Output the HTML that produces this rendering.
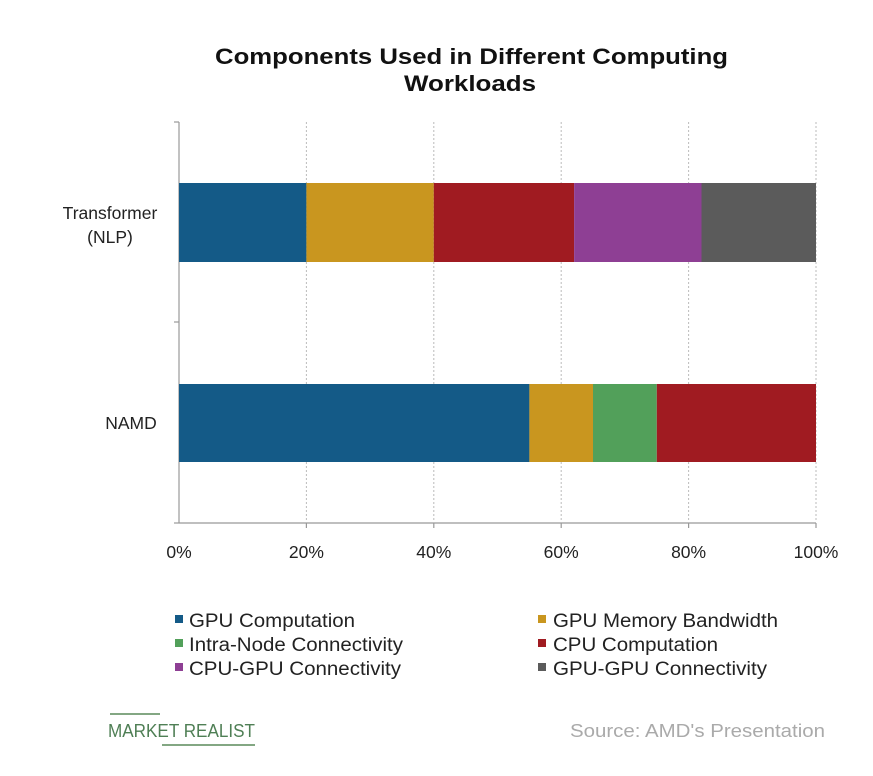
<!DOCTYPE html>
<html><head><meta charset="utf-8"><style>
html,body{margin:0;padding:0;background:#fff;}
svg{display:block;font-family:"Liberation Sans",Arial,sans-serif;}
</style></head><body>
<svg width="873" height="776" viewBox="0 0 873 776" xmlns="http://www.w3.org/2000/svg">
<rect width="873" height="776" fill="#fff"/>
<text x="215" y="64" font-size="22" font-weight="bold" fill="#111" textLength="513" lengthAdjust="spacingAndGlyphs">Components Used in Different Computing</text>
<text x="404" y="91" font-size="22" font-weight="bold" fill="#111" textLength="132" lengthAdjust="spacingAndGlyphs">Workloads</text>
<g stroke="#bbb" stroke-dasharray="2,2" stroke-width="1">
<line x1="306.4" y1="122" x2="306.4" y2="522"/>
<line x1="433.8" y1="122" x2="433.8" y2="522"/>
<line x1="561.2" y1="122" x2="561.2" y2="522"/>
<line x1="688.6" y1="122" x2="688.6" y2="522"/>
<line x1="816" y1="122" x2="816" y2="522"/>
</g>
<g stroke="#999" stroke-width="1.2">
<line x1="179" y1="122" x2="179" y2="523"/>
<line x1="179" y1="523" x2="816" y2="523"/>
<line x1="174" y1="122" x2="179" y2="122"/>
<line x1="174" y1="322" x2="179" y2="322"/>
<line x1="174" y1="523" x2="179" y2="523"/>
<line x1="306.4" y1="523" x2="306.4" y2="528"/>
<line x1="433.8" y1="523" x2="433.8" y2="528"/>
<line x1="561.2" y1="523" x2="561.2" y2="528"/>
<line x1="688.6" y1="523" x2="688.6" y2="528"/>
<line x1="816" y1="523" x2="816" y2="528"/>
</g>
<rect x="179" y="183" width="127.4" height="79" fill="#145a87"/>
<rect x="306.4" y="183" width="127.4" height="79" fill="#c9961f"/>
<rect x="433.8" y="183" width="140.3" height="79" fill="#a01b21"/>
<rect x="574.1" y="183" width="127.4" height="79" fill="#8e3f94"/>
<rect x="701.5" y="183" width="114.5" height="79" fill="#5b5b5b"/>
<rect x="179" y="384" width="350.4" height="78" fill="#145a87"/>
<rect x="529.4" y="384" width="63.6" height="78" fill="#c9961f"/>
<rect x="593" y="384" width="63.8" height="78" fill="#52a05a"/>
<rect x="656.8" y="384" width="159.2" height="78" fill="#a01b21"/>
<g font-size="17.5" fill="#222" text-anchor="middle">
<text x="110" y="219">Transformer</text>
<text x="110" y="243">(NLP)</text>
<text x="131" y="429">NAMD</text>
<text x="179" y="558">0%</text>
<text x="306.4" y="558">20%</text>
<text x="433.8" y="558">40%</text>
<text x="561.2" y="558">60%</text>
<text x="688.6" y="558">80%</text>
<text x="816" y="558">100%</text>
</g>
<g font-size="19" fill="#222">
<rect x="175" y="615" width="8" height="8" fill="#145a87"/><text x="189" y="627" textLength="166" lengthAdjust="spacingAndGlyphs">GPU Computation</text>
<rect x="175" y="639" width="8" height="8" fill="#52a05a"/><text x="189" y="651" textLength="214" lengthAdjust="spacingAndGlyphs">Intra-Node Connectivity</text>
<rect x="175" y="663" width="8" height="8" fill="#8e3f94"/><text x="189" y="675" textLength="212" lengthAdjust="spacingAndGlyphs">CPU-GPU Connectivity</text>
<rect x="538" y="615" width="8" height="8" fill="#c9961f"/><text x="553" y="627" textLength="225" lengthAdjust="spacingAndGlyphs">GPU Memory Bandwidth</text>
<rect x="538" y="639" width="8" height="8" fill="#a01b21"/><text x="553" y="651" textLength="165" lengthAdjust="spacingAndGlyphs">CPU Computation</text>
<rect x="538" y="663" width="8" height="8" fill="#5b5b5b"/><text x="553" y="675" textLength="214" lengthAdjust="spacingAndGlyphs">GPU-GPU Connectivity</text>
</g>
<line x1="110" y1="714" x2="160" y2="714" stroke="#5a8a5a" stroke-width="1.5"/>
<text x="108" y="737" font-size="18" fill="#4f7f55" textLength="147" lengthAdjust="spacingAndGlyphs">MARKET REALIST</text>
<line x1="162" y1="745" x2="255" y2="745" stroke="#5a8a5a" stroke-width="1.5"/>
<text x="570" y="737" font-size="18" fill="#aaa" textLength="255" lengthAdjust="spacingAndGlyphs">Source: AMD's Presentation</text>
</svg>
</body></html>
